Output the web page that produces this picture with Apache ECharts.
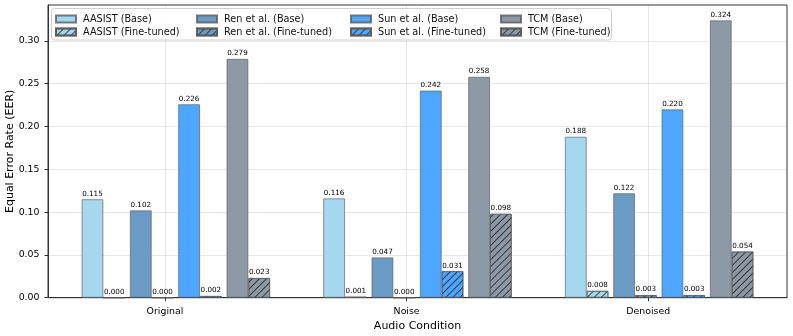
<!DOCTYPE html>
<html lang="en">
<head>
    <meta charset="UTF-8">
    <title>EER by audio condition</title>
    <script src="https://cdn.jsdelivr.net/npm/echarts@6/dist/echarts.min.js"></script>
    <style>
        html, body { margin: 0; padding: 0; background: #fff; }
        #main { width: 793px; height: 336px; }
    </style>
</head>
<body>
<div id="main"></div>
<script>
    // categories and values
    var conditions = ['Original', 'Noise', 'Denoised'];
    var models = ['AASIST', 'Ren et al.', 'Sun et al.', 'TCM'];
    var baseEER = {
        'AASIST': [0.115, 0.116, 0.188],
        'Ren et al.': [0.102, 0.047, 0.122],
        'Sun et al.': [0.226, 0.242, 0.220],
        'TCM': [0.279, 0.258, 0.324]
    };
    var fineEER = {
        'AASIST': [0.000, 0.001, 0.008],
        'Ren et al.': [0.000, 0.000, 0.003],
        'Sun et al.': [0.002, 0.031, 0.003],
        'TCM': [0.023, 0.098, 0.054]
    };
    var colors = ['#a3d8ef', '#6a9bc4', '#4da6ff', '#8c99a6'];
    var yTicks = [0, 0.05, 0.10, 0.15, 0.20, 0.25, 0.30];

    var barW = 0.09;     // width of one bar in x units
    var modelStep = 0.2; // distance between model pairs

    var font = 'DejaVu Sans';
    var hatch = {
        symbol: 'rect',
        symbolSize: 1,
        dashArrayX: [1, 0],
        dashArrayY: [1, 4],
        rotation: -Math.PI / 4,
        color: 'rgba(40,40,40,0.85)'
    };

    var series = [];
    models.forEach(function (m, i) {
        var off = (i - 1.5) * modelStep;
        ['Base', 'Fine-tuned'].forEach(function (kind, k) {
            var vals = k === 0 ? baseEER[m] : fineEER[m];
            var style = {
                color: colors[i],
                borderColor: 'rgba(90,90,90,0.8)',
                borderWidth: 0.8
            };
            if (k === 1) style.decal = hatch;
            series.push({
                type: 'bar',
                name: m + ' (' + kind + ')',
                barWidth: 21.7,
                barGap: '-100%',
                data: vals.map(function (v, c) { return [c + off + k * barW, v]; }),
                itemStyle: style,
                label: {
                    show: true,
                    position: 'top',
                    distance: 2,
                    fontFamily: font,
                    fontSize: 7.2,
                    color: '#000',
                    formatter: function (p) { return p.value[1].toFixed(3); }
                }
            });
        });
    });

    // one legend per column, base on top and fine-tuned below
    var legendLeft = [55, 196, 350, 500];
    var legends = models.map(function (m, i) {
        return {
            orient: 'vertical',
            left: legendLeft[i],
            top: 13.5,
            itemWidth: 20,
            itemHeight: 7,
            itemGap: 2,
            icon: 'rect',
            padding: 0,
            textStyle: { fontFamily: font, fontSize: 9.7, lineHeight: 11, color: '#111', padding: [0, 0, 0, 2] },
            data: [m + ' (Base)', m + ' (Fine-tuned)']
        };
    });

    var chart = echarts.init(document.getElementById('main'));
    chart.setOption({
        animation: false,
        textStyle: { fontFamily: font },
        grid: {
            left: 48, right: 6, top: 5, bottom: 38.3,
            outerBoundsMode: 'none',
            containLabel: false,
            show: true, borderColor: '#333', borderWidth: 1
        },
        graphic: [{
            type: 'rect',
            z: 3,
            shape: { x: 51.5, y: 8.5, width: 560, height: 31.5, r: 3 },
            style: { fill: 'rgba(255,255,255,0.85)', stroke: '#cfcfcf', lineWidth: 1 }
        }],
        legend: legends,
        xAxis: {
            type: 'value',
            min: -0.484,
            max: 2.574,
            name: 'Audio Condition',
            nameLocation: 'middle',
            nameGap: 23,
            nameTextStyle: { fontFamily: font, fontSize: 11, color: '#000' },
            axisLine: { show: true, onZero: false, lineStyle: { color: '#333' } },
            axisTick: { show: true, length: 3.5, customValues: [0, 1, 2], lineStyle: { color: '#333' } },
            axisLabel: {
                customValues: [0, 1, 2],
                fontFamily: font, fontSize: 9.4, color: '#000', margin: 9,
                formatter: function (v) { return conditions[Math.round(v)]; }
            },
            splitLine: { show: true, lineStyle: { color: 'rgba(0,0,0,0.09)' } }
        },
        yAxis: {
            type: 'value',
            min: 0,
            max: 0.342,
            interval: 0.05,
            name: 'Equal Error Rate (EER)',
            nameLocation: 'middle',
            nameGap: 32,
            nameMoveOverlap: false,
            nameTextStyle: { fontFamily: font, fontSize: 11, color: '#000' },
            axisLine: { show: true, onZero: false, lineStyle: { color: '#333' } },
            axisTick: { show: true, length: 3.5, customValues: yTicks, lineStyle: { color: '#333' } },
            axisLabel: {
                customValues: yTicks,
                fontFamily: font, fontSize: 9.4, color: '#000', margin: 8.5,
                formatter: function (v) { return v.toFixed(2); }
            },
            splitLine: { show: true, lineStyle: { color: 'rgba(0,0,0,0.09)' } }
        },
        series: series
    });
</script>
</body>
</html>
